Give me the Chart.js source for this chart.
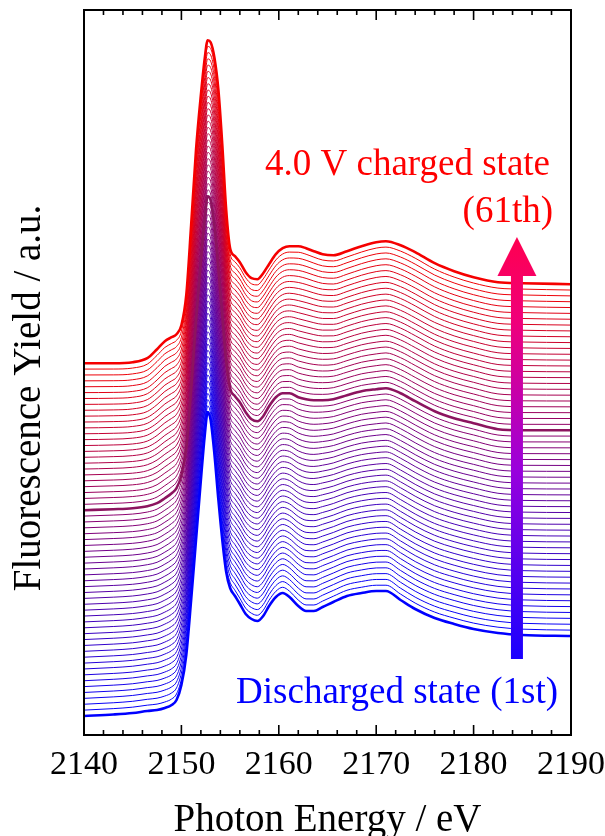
<!DOCTYPE html>
<html>
<head>
<meta charset="utf-8">
<title>S K-edge XANES during charging</title>
<script src="https://cdn.jsdelivr.net/npm/chart.js@4.4.1/dist/chart.umd.min.js"></script>
<style>
  html, body { margin: 0; padding: 0; background: #ffffff; }
  #wrap { width: 605px; height: 836px; }
</style>
</head>
<body>
<div id="wrap"><canvas id="chart" width="605" height="836"></canvas></div>
<script>
// Photon energy grid (eV)
const energies = [2140, 2143, 2145, 2146.5, 2147.5, 2148.3, 2149, 2149.5, 2150, 2150.5,
  2151, 2151.5, 2152, 2152.4, 2152.7, 2153, 2153.4, 2153.8, 2154.2, 2154.6,
  2155, 2155.5, 2156, 2156.6, 2157.2, 2157.8, 2158.4, 2159, 2159.7, 2160.4,
  2161.1, 2162, 2162.8, 2163.6, 2164.5, 2165.6, 2167, 2168.5, 2170, 2171,
  2172.5, 2174, 2176, 2178, 2180, 2182.5, 2185, 2190];

// Fluorescence yield above the pre-edge level (a.u.)
// 1st scan: discharged state
const scanFirst = [0, 0.015, 0.03, 0.05, 0.06, 0.08, 0.11, 0.16, 0.31, 0.61,
  1.16, 1.76, 2.36, 2.81, 3.04, 2.96, 2.61, 2.16, 1.76, 1.44,
  1.28, 1.20, 1.12, 1.02, 0.97, 0.95, 1.00, 1.10, 1.19, 1.23,
  1.19, 1.10, 1.05, 1.05, 1.09, 1.14, 1.20, 1.23, 1.25, 1.25,
  1.16, 1.07, 0.98, 0.92, 0.87, 0.83, 0.81, 0.80];
// 36th scan: mid-charge
const scanMid = [0, 0.01, 0.02, 0.04, 0.07, 0.12, 0.17, 0.22, 0.35, 0.63,
  1.22, 1.90, 2.50, 2.92, 3.14, 3.10, 2.84, 2.42, 1.95, 1.50,
  1.22, 1.14, 1.08, 0.98, 0.91, 0.89, 0.94, 1.04, 1.13, 1.17,
  1.17, 1.13, 1.11, 1.10, 1.10, 1.11, 1.15, 1.19, 1.21, 1.22,
  1.17, 1.09, 0.99, 0.92, 0.87, 0.81, 0.80, 0.80];
// 61st scan: 4.0 V charged state
const scanLast = [0, 0, 0.01, 0.05, 0.14, 0.22, 0.26, 0.29, 0.38, 0.68,
  1.38, 2.13, 2.68, 3.05, 3.23, 3.21, 3.05, 2.73, 2.18, 1.53,
  1.15, 1.07, 1.01, 0.91, 0.85, 0.84, 0.90, 0.99, 1.09, 1.15,
  1.17, 1.17, 1.15, 1.12, 1.09, 1.08, 1.12, 1.17, 1.21, 1.22,
  1.18, 1.11, 1.00, 0.92, 0.86, 0.81, 0.80, 0.79];

const scanCount = 61;      // scans recorded from 1st to 61st
const midScanIndex = 35;   // 36th scan (highlighted)
const firstOffset = 0.19;  // vertical offset of the 1st scan
const offsetStep = 0.0588; // stacking offset between consecutive scans

// Axis ticks (eV)
const xLabelTicks = [2140, 2150, 2160, 2170, 2180, 2190];
const xMinorStep = 2;

// Intermediate scans as two-phase mixtures of the neighbouring reference scans
function scanSpectrum(s) {
  let a, b, w;
  if (s <= midScanIndex) { a = scanFirst; b = scanMid; w = s / midScanIndex; }
  else { a = scanMid; b = scanLast; w = (s - midScanIndex) / (scanCount - 1 - midScanIndex); }
  return energies.map((e, k) => ({ x: e, y: firstOffset + s * offsetStep + (1 - w) * a[k] + w * b[k] }));
}

function scanColor(s) {
  const t = s / (scanCount - 1);
  return `rgb(${Math.round(245 * t)}, 0, ${Math.round(255 * (1 - t))})`;
}

const datasets = [];
for (let s = 0; s < scanCount; s++) {
  const bold = (s === 0 || s === scanCount - 1 || s === midScanIndex);
  const col = s === midScanIndex ? 'rgb(140, 20, 95)' : scanColor(s);
  datasets.push({
    label: `scan ${s + 1}`,
    data: scanSpectrum(s),
    borderColor: col,
    borderWidth: bold ? 2.6 : 1,
    pointRadius: 0,
    fill: false,
    cubicInterpolationMode: 'monotone',
    order: bold ? 0 : 1
  });
}

const serif = "'Liberation Serif', 'Times New Roman', 'DejaVu Serif', serif";

// Frame, inward ticks, annotations, arrow and vertical title
const decorations = {
  id: 'decorations',
  afterDatasetsDraw(chart) {
    const { ctx, chartArea: { left, right, top, bottom }, scales: { x, y } } = chart;
    ctx.save();
    // inward tick marks on bottom and top edges
    ctx.strokeStyle = '#000';
    ctx.lineWidth = 1.6;
    x.ticks.forEach(t => {
      const px = x.getPixelForValue(t.value);
      const len = xLabelTicks.includes(t.value) ? 10 : 5;
      ctx.beginPath();
      ctx.moveTo(px, bottom); ctx.lineTo(px, bottom - len);
      ctx.moveTo(px, top); ctx.lineTo(px, top + len);
      ctx.stroke();
    });
    // frame
    ctx.lineWidth = 2;
    ctx.strokeRect(left, top, right - left, bottom - top);

    // gradient arrow
    const ax = x.getPixelForValue(2184.45);
    const yBase = y.getPixelForValue(0.76);
    const yHead = y.getPixelForValue(4.59);
    const yTip = y.getPixelForValue(4.98);
    const grad = ctx.createLinearGradient(0, yBase, 0, yTip);
    grad.addColorStop(0, '#1a00ff');
    grad.addColorStop(0.45, '#9a00dc');
    grad.addColorStop(0.8, '#f0007a');
    grad.addColorStop(1, '#ff0050');
    ctx.fillStyle = grad;
    ctx.fillRect(ax - 6, yHead - 1, 12, yBase - yHead + 1);
    ctx.beginPath();
    ctx.moveTo(ax, yTip);
    ctx.lineTo(ax + 19.5, yHead);
    ctx.lineTo(ax - 19.5, yHead);
    ctx.closePath();
    ctx.fill();

    // state labels
    ctx.font = `37px ${serif}`;
    ctx.textAlign = 'right';
    ctx.textBaseline = 'alphabetic';
    ctx.fillStyle = '#ff0000';
    ctx.fillText('4.0 V charged state', 550, 175);
    ctx.fillText('(61th)', 553, 222);
    ctx.fillStyle = '#0000ff';
    ctx.fillText('Discharged state (1st)', 558, 703);

    // vertical axis title
    ctx.translate(40, 398);
    ctx.rotate(-Math.PI / 2);
    ctx.textAlign = 'center';
    ctx.fillStyle = '#000';
    ctx.font = `39px ${serif}`;
    ctx.fillText('Fluorescence Yield / a.u.', 0, 0);
    ctx.restore();
  }
};

new Chart(document.getElementById('chart'), {
  type: 'line',
  data: { datasets },
  options: {
    responsive: false,
    animation: false,
    devicePixelRatio: 1,
    layout: { padding: { top: 10, right: 34, left: 0, bottom: 0 } },
    plugins: { legend: { display: false }, tooltip: { enabled: false } },
    scales: {
      x: {
        type: 'linear',
        min: 2140,
        max: 2190,
        afterBuildTicks: (scale) => {
          const vals = [];
          for (let v = xLabelTicks[0]; v <= xLabelTicks[xLabelTicks.length - 1]; v += xMinorStep) vals.push({ value: v });
          scale.ticks = vals;
        },
        afterFit: (scale) => {
          scale.height = 101;
          scale.paddingLeft = 0;
          scale.paddingRight = 0;
        },
        grid: { display: false, drawTicks: false },
        border: { display: false },
        ticks: {
          autoSkip: false,
          maxRotation: 0,
          padding: 10,
          color: '#000',
          font: { family: serif, size: 34 },
          callback: (v) => xLabelTicks.includes(v) ? String(v) : ''
        },
        title: {
          display: true,
          text: 'Photon Energy / eV',
          color: '#000',
          font: { family: serif, size: 39, lineHeight: 1 },
          padding: { top: 0, bottom: -4 }
        }
      },
      y: {
        min: 0,
        max: 7.25,
        afterFit: (scale) => { scale.width = 84; },
        grid: { display: false, drawTicks: false },
        border: { display: false },
        ticks: { display: false }
      }
    }
  },
  plugins: [decorations]
});
</script>
</body>
</html>
